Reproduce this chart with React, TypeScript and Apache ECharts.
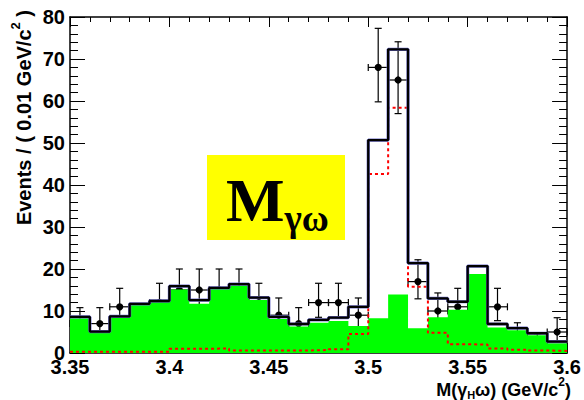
import React, { useEffect, useRef } from "react";
import * as echarts from "echarts";

// ---- data ----
const binCenters = [
  3.355, 3.365, 3.375, 3.385, 3.395, 3.405, 3.415, 3.425, 3.435, 3.445,
  3.455, 3.465, 3.475, 3.485, 3.495, 3.505, 3.515, 3.525, 3.535, 3.545,
  3.555, 3.565, 3.575, 3.585, 3.595,
];
const totalFit = [
  8.6, 5.1, 8.7, 11.7, 12.4, 15.9, 12.6, 15.5, 16.4, 13.2,
  8.6, 6.9, 7.9, 8.4, 11.0, 50.7, 72.3, 21.4, 13.0, 12.2,
  20.7, 6.9, 5.9, 4.7, 2.7,
];
const background = [
  8.3, 4.8, 8.4, 11.4, 12.0, 15.1, 11.7, 15.3, 16.1, 12.6,
  8.1, 6.3, 7.2, 7.6, 6.4, 8.3, 13.9, 5.9, 8.5, 10.3,
  18.8, 6.1, 5.4, 4.2, 2.3,
];
const signal = [
  0.3, 0.3, 0.3, 0.3, 0.3, 1.0, 1.0, 1.1, 0.6, 0.6,
  0.6, 0.6, 0.7, 0.9, 4.5, 42.6, 58.4, 15.8, 4.8, 2.1,
  2.0, 1.1, 0.8, 0.6, 0.5,
];
const counts = [
  7, 7, 11, 6, 12, 15, 15, 15, 15, 12,
  9, 7, 12, 12, 9, 68, 65, 17, 10, 11,
  12, 11, 4, 2, 5,
];
const errLow = [
  2.6, 2.6, 3.3, 2.4, 3.5, 3.8, 3.8, 3.8, 3.8, 3.5,
  2.9, 2.6, 3.5, 3.5, 2.9, 8.2, 8.0, 4.1, 3.1, 3.3,
  3.5, 3.3, 1.9, 1.3, 2.2,
];
const errHigh = [
  3.8, 3.8, 4.4, 3.6, 4.6, 5.0, 5.0, 5.0, 5.0, 4.6,
  4.1, 3.8, 4.6, 4.6, 4.1, 9.3, 9.1, 5.2, 4.3, 4.4,
  4.6, 4.4, 3.2, 2.6, 3.4,
];
const binHalfWidth = 0.005;
const xMin = 3.35;
const xMax = 3.6;
const xInterval = 0.05;
const yMin = 0;
const yMax = 80;
const yInterval = 10;

const SANS = '"Liberation Sans", Arial, Helvetica, sans-serif';
const SERIF = '"Liberation Serif", "Times New Roman", serif';

function histPoints(vals: number[]) {
  const pts: number[][] = [];
  vals.forEach((v, i) => {
    pts.push([binCenters[i] - binHalfWidth, v]);
    pts.push([binCenters[i] + binHalfWidth, v]);
  });
  return pts;
}

type Part = { t: string; fs: number; dy?: number; fam?: string };

let measureCtx: CanvasRenderingContext2D | null = null;
function measure(t: string, font: string) {
  if (!measureCtx) measureCtx = document.createElement("canvas").getContext("2d");
  measureCtx!.font = font;
  return measureCtx!.measureText(t).width;
}

function buildRun(parts: Part[], ox: number, oy: number, z: number) {
  let x = 0;
  const children: any[] = [];
  parts.forEach((p) => {
    const fam = p.fam || SANS;
    const font = `bold ${p.fs}px ${fam}`;
    children.push({
      type: "text",
      x: ox + x,
      y: oy + (p.dy || 0),
      z,
      style: {
        text: p.t,
        font,
        fill: "#000",
        textAlign: "left",
        textVerticalAlign: "middle",
      },
    });
    x += measure(p.t, font);
  });
  return { children, width: x };
}

export default function App() {
  const ref = useRef<HTMLDivElement>(null);
  useEffect(() => {
    if (!ref.current) return;
    const chart = echarts.init(ref.current, null, { renderer: "svg" });

    const pointData = binCenters.map((c, i) => [c, counts[i], errLow[i], errHigh[i]]);

    const yParts: Part[] = [
      { t: "Events / ( 0.01 GeV/c", fs: 20 },
      { t: "2", fs: 13, dy: -9 },
      { t: " )", fs: 20 },
    ];
    const yTitleW = buildRun(yParts, 0, 0, 10).width;
    const yTitle = buildRun(yParts, -yTitleW, 0, 10);

    const xParts: Part[] = [
      { t: "M(γ", fs: 18 },
      { t: "H", fs: 11, dy: 5 },
      { t: "ω) (GeV/c", fs: 18 },
      { t: "2", fs: 12, dy: -8 },
      { t: ")", fs: 18 },
    ];
    const xTitleW = buildRun(xParts, 0, 0, 10).width;
    const xTitle = buildRun(xParts, 571 - xTitleW, 390, 10);

    const boxLabel = buildRun(
      [
        { t: "M", fs: 62, fam: SERIF },
        { t: "γω", fs: 37, dy: 18, fam: SERIF },
      ],
      226,
      200,
      20
    );

    const axisCommonX = {
      type: "value",
      min: xMin,
      max: xMax,
      interval: xInterval,
      splitLine: { show: false },
      axisLine: { show: true, onZero: false, lineStyle: { color: "#000", width: 1.5 } },
      axisTick: { show: true, inside: true, length: 10, lineStyle: { color: "#000", width: 1 } },
      minorTick: { show: true, splitNumber: 5, length: 5, lineStyle: { color: "#000", width: 1 } },
    };
    const axisCommonY = {
      type: "value",
      min: yMin,
      max: yMax,
      interval: yInterval,
      splitLine: { show: false },
      axisLine: { show: true, onZero: false, lineStyle: { color: "#000", width: 1.5 } },
      axisTick: { show: true, inside: true, length: 15, lineStyle: { color: "#000", width: 1 } },
      minorTick: { show: true, splitNumber: 5, length: 8, lineStyle: { color: "#000", width: 1 } },
    };

    chart.setOption({
      animation: false,
      backgroundColor: "#fff",
      grid: { left: 70, right: 12, top: 17, bottom: 47, containLabel: false },
      xAxis: [
        {
          ...axisCommonX,
          position: "bottom",
          axisLabel: {
            show: true,
            margin: 4,
            color: "#000",
            fontFamily: SANS,
            fontWeight: "bold",
            fontSize: 20,
            showMinLabel: true,
            showMaxLabel: true,
            formatter: (v: number) => String(+v.toFixed(2)),
          },
        },
        { ...axisCommonX, position: "top", axisLabel: { show: false } },
      ],
      yAxis: [
        {
          ...axisCommonY,
          position: "left",
          axisLabel: {
            show: true,
            margin: 5,
            color: "#000",
            fontFamily: SANS,
            fontWeight: "bold",
            fontSize: 20,
            formatter: (v: number) => String(Math.round(v)),
          },
        },
        { ...axisCommonY, position: "right", axisLabel: { show: false } },
      ],
      series: [
        {
          type: "custom",
          name: "data",
          z: 1,
          xAxisIndex: 0,
          yAxisIndex: 0,
          data: pointData,
          renderItem: (params: any, api: any) => {
            const c = api.value(0);
            const n = api.value(1);
            const lo = api.value(2);
            const hi = api.value(3);
            const p = api.coord([c, n]);
            const pl = api.coord([c - binHalfWidth, n]);
            const pr = api.coord([c + binHalfWidth, n]);
            const pt = api.coord([c, n + hi]);
            const pb = api.coord([c, Math.max(0, n - lo)]);
            const cap = 3.5;
            const ls = { stroke: "#000", lineWidth: 1.2 };
            return {
              type: "group",
              children: [
                { type: "line", shape: { x1: pl[0], y1: p[1], x2: pr[0], y2: p[1] }, style: ls },
                { type: "line", shape: { x1: p[0], y1: pt[1], x2: p[0], y2: pb[1] }, style: ls },
                { type: "line", shape: { x1: p[0] - cap, y1: pt[1], x2: p[0] + cap, y2: pt[1] }, style: ls },
                { type: "line", shape: { x1: p[0] - cap, y1: pb[1], x2: p[0] + cap, y2: pb[1] }, style: ls },
                { type: "line", shape: { x1: pl[0], y1: p[1] - cap, x2: pl[0], y2: p[1] + cap }, style: ls },
                { type: "line", shape: { x1: pr[0], y1: p[1] - cap, x2: pr[0], y2: p[1] + cap }, style: ls },
                { type: "circle", shape: { cx: p[0], cy: p[1], r: 3.6 }, style: { fill: "#000" } },
              ],
            };
          },
        },
        {
          type: "line",
          name: "background",
          z: 2,
          data: histPoints(background),
          showSymbol: false,
          symbol: "none",
          lineStyle: { width: 0, color: "#00ff00" },
          areaStyle: { color: "#00ff00", opacity: 1 },
          itemStyle: { color: "#00ff00" },
        },
        {
          type: "line",
          name: "signal",
          z: 3,
          data: histPoints(signal),
          showSymbol: false,
          symbol: "none",
          lineStyle: { width: 2, color: "#ff0000", type: [3, 3] },
          itemStyle: { color: "#ff0000" },
        },
        {
          type: "line",
          name: "total-halo",
          z: 4,
          data: histPoints(totalFit),
          showSymbol: false,
          symbol: "none",
          lineStyle: { width: 3.2, color: "#6a6ac8" },
        },
        {
          type: "line",
          name: "total",
          z: 5,
          data: histPoints(totalFit),
          showSymbol: false,
          symbol: "none",
          lineStyle: { width: 2.3, color: "#000" },
        },
      ],
      graphic: [
        {
          type: "group",
          x: 24,
          y: 10,
          rotation: Math.PI / 2,
          children: yTitle.children,
        },
        ...xTitle.children,
        {
          type: "rect",
          shape: { x: 207, y: 155, width: 138, height: 85 },
          style: { fill: "#ffff00" },
          z: 10,
        },
        ...boxLabel.children,
      ],
    });
    return () => chart.dispose();
  }, []);
  return <div ref={ref} style={{ width: 584, height: 400, position: "absolute", left: 0, top: 0 }} />;
}
